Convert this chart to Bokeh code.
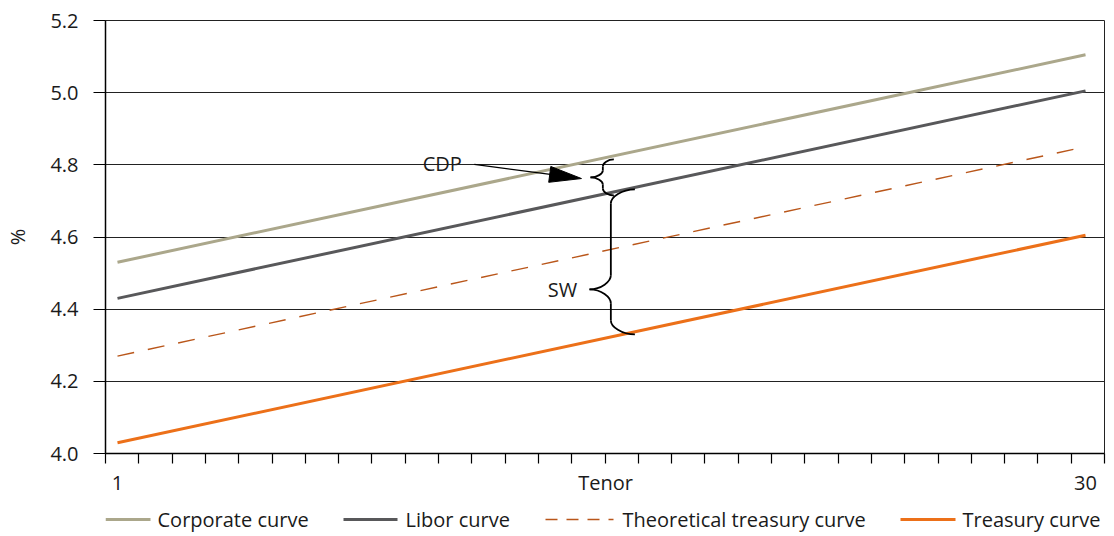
from bokeh.plotting import figure
from bokeh.layouts import column
from bokeh.models import FixedTicker, Range1d, Label, NumeralTickFormatter
from bokeh.core.properties import value
from bokeh.embed import file_html
from bokeh.resources import INLINE

# ---------------- data ----------------
tenor = [1, 30]
corporate = [4.53, 5.105]
libor = [4.43, 5.005]
theoretical = [4.27, 4.85]
treasury = [4.03, 4.605]
y_ticks = [4.0, 4.2, 4.4, 4.6, 4.8, 5.0, 5.2]
x_tick_labels = {1: "1", 30: "30"}
x_axis_title = "Tenor"
y_axis_title = "%"
series_names = ["Corporate curve", "Libor curve", "Theoretical treasury curve", "Treasury curve"]

# ---------------- styles / layout constants ----------------
styles = [
    dict(line_color="#aba78b", line_width=3),
    dict(line_color="#58585a", line_width=3),
    dict(line_color="#b9561a", line_width=1.4, line_dash="17 14"),
    dict(line_color="#ec7019", line_width=3),
]
X0, X1 = 0.6405, 30.569
Y0, Y1 = 4.0, 5.2
FW, FH = 999, 433
FRAME_LEFT, FRAME_RIGHT = 105, 1104
SX = FW / (X1 - X0)
SY = FH / (Y1 - Y0)
FONT = "Open Sans"
TXT = "#1a1a1a"
FS = "20px"
W = 1114
MAIN_H = 499
LEG_H = 536 - MAIN_H

p = figure(frame_width=FW, frame_height=FH,
           x_range=Range1d(X0, X1), y_range=Range1d(Y0, Y1),
           output_backend="svg", toolbar_location=None,
           min_border_left=FRAME_LEFT, min_border_top=20, min_border_right=W - FRAME_RIGHT,
           min_border_bottom=MAIN_H - 20 - FH)
p.background_fill_color = "white"
p.border_fill_color = "white"
p.outline_line_color = "#222222"
p.outline_line_width = 1

# grid
p.xgrid.visible = False
p.ygrid.ticker = FixedTicker(ticks=y_ticks)
p.ygrid.grid_line_color = "#222222"
p.ygrid.grid_line_width = 1

# y axis
ya = p.yaxis[0]
ya.ticker = FixedTicker(ticks=y_ticks)
ya.formatter = NumeralTickFormatter(format="0.0")
ya.axis_line_color = "black"
ya.axis_line_width = 1.5
ya.major_tick_out = 12
ya.major_tick_in = 0
ya.major_tick_line_color = "black"
ya.minor_tick_line_color = None
ya.major_label_standoff = 15
ya.major_label_text_font = FONT
ya.major_label_text_font_size = FS
ya.major_label_text_color = TXT
ya.axis_label = y_axis_title
ya.axis_label_text_font = FONT
ya.axis_label_text_font_size = FS
ya.axis_label_text_font_style = "normal"
ya.axis_label_text_color = TXT
ya.axis_label_standoff = 16

# x axis: boundary tick marks as minor ticks, labels as majors
bounds = [X0 + k * (X1 - X0) / 30 for k in range(31)]
tenor_pos = 15.62
xa = p.xaxis[0]
xa.ticker = FixedTicker(ticks=[1, tenor_pos, 30], minor_ticks=bounds)
overrides = {k: v for k, v in x_tick_labels.items()}
overrides[tenor_pos] = x_axis_title
xa.major_label_overrides = overrides
xa.axis_line_color = "black"
xa.axis_line_width = 1.5
xa.major_tick_out = 0
xa.major_tick_in = 0
xa.minor_tick_out = 10
xa.minor_tick_in = 0
xa.minor_tick_line_color = "black"
xa.minor_tick_line_width = 1.2
xa.major_label_standoff = 5
xa.major_label_text_font = FONT
xa.major_label_text_font_size = FS
xa.major_label_text_color = TXT

# ---------------- series ----------------
for vals, st in zip([corporate, libor, theoretical, treasury], styles):
    p.line(tenor, vals, **st)

# ---------------- annotations ----------------
def px(dx):
    return dx / SX

def py(dy):
    return dy / SY

ANN = "black"
cdp_label = (10.73, 4.804)
sw_label = (14.33, 4.455)
arrow_from = (11.69, 4.801)
arrow_to = (14.90, 4.762)
sw_brace = dict(xe=16.50, xs=15.78, xt=15.14, yt=4.732, ym=4.455, yb=4.330, r=py(14))
cdp_brace = dict(xe=15.87, xs=15.54, xt=15.17, yt=4.815, ym=4.765, yb=4.715, r=py(7))

for (lx, ly), t in [(cdp_label, "CDP"), (sw_label, "SW")]:
    p.add_layout(Label(x=lx, y=ly, text=t, text_font=FONT, text_font_size=FS,
                       text_color=TXT, text_align="center", text_baseline="middle"))

ax0, ay0 = arrow_from
ax1, ay1 = arrow_to
dxp = (ax1 - ax0) * SX
dyp = (ay1 - ay0) * SY
L = (dxp ** 2 + dyp ** 2) ** 0.5
ux, uy = dxp / L, dyp / L
head_len, head_half = 32, 8
bxp, byp = -ux * head_len, -uy * head_len
nx, ny = -uy, ux
hx = [ax1, ax1 + px(bxp + nx * head_half), ax1 + px(bxp - nx * head_half)]
hy = [ay1, ay1 + py(byp + ny * head_half), ay1 + py(byp - ny * head_half)]
p.line([ax0, ax1 + px(bxp * 0.8)], [ay0, ay1 + py(byp * 0.8)], line_color=ANN, line_width=1.3)
p.patch(hx, hy, fill_color=ANN, line_color=ANN, line_width=1)


def draw_brace(xe, xs, xt, yt, ym, yb, r):
    k = 0.45
    bz = [
        (xe, yt, xs, yt - r, xs + (xe - xs) * k, yt, xs, yt - r * (1 - k)),
        (xs, ym + r, xt, ym, xs, ym + r * (1 - k), xs - (xs - xt) * k, ym),
        (xt, ym, xs, ym - r, xs - (xs - xt) * k, ym, xs, ym - r * (1 - k)),
        (xs, yb + r, xe, yb, xs, yb + r * (1 - k), xs + (xe - xs) * k, yb),
    ]
    p.bezier(x0=[b[0] for b in bz], y0=[b[1] for b in bz], x1=[b[2] for b in bz], y1=[b[3] for b in bz],
             cx0=[b[4] for b in bz], cy0=[b[5] for b in bz], cx1=[b[6] for b in bz], cy1=[b[7] for b in bz],
             line_color=ANN, line_width=1.8)
    p.segment(x0=[xs, xs], y0=[yt - r, ym - r], x1=[xs, xs], y1=[ym + r, yb + r],
              line_color=ANN, line_width=1.8)


draw_brace(**cdp_brace)
draw_brace(**sw_brace)

# ---------------- legend strip (page-pixel coordinates; frame aligned with main plot) ----------------
leg = figure(width=W, height=LEG_H, x_range=Range1d(FRAME_LEFT, FRAME_RIGHT), y_range=Range1d(0, LEG_H),
             output_backend="svg", toolbar_location=None,
             x_axis_location=None, y_axis_location=None,
             min_border_left=FRAME_LEFT, min_border_right=W - FRAME_RIGHT, min_border_top=0, min_border_bottom=0)
leg.outline_line_color = None
leg.grid.visible = False
leg.background_fill_color = "white"
leg.border_fill_color = "white"
glyph_x0 = [105, 343, 545, 900]
glyph_x1 = [150, 397, 613, 955]
label_x = [157, 405, 622, 962]
row_y = LEG_H - 20
for g0, g1, st in zip(glyph_x0, glyph_x1, styles):
    st2 = dict(st)
    if "line_dash" in st2:
        st2["line_dash"] = "12 9"
    leg.line([g0, g1], [row_y, row_y], **st2)
leg.text(x=label_x, y=[row_y] * 4, text=series_names, text_font=value(FONT),
         text_font_size=value(FS), text_color=TXT, text_baseline="middle", text_align="left")

layout = column(p, leg, spacing=0)
open("out.html", "w").write(file_html(layout, INLINE))
